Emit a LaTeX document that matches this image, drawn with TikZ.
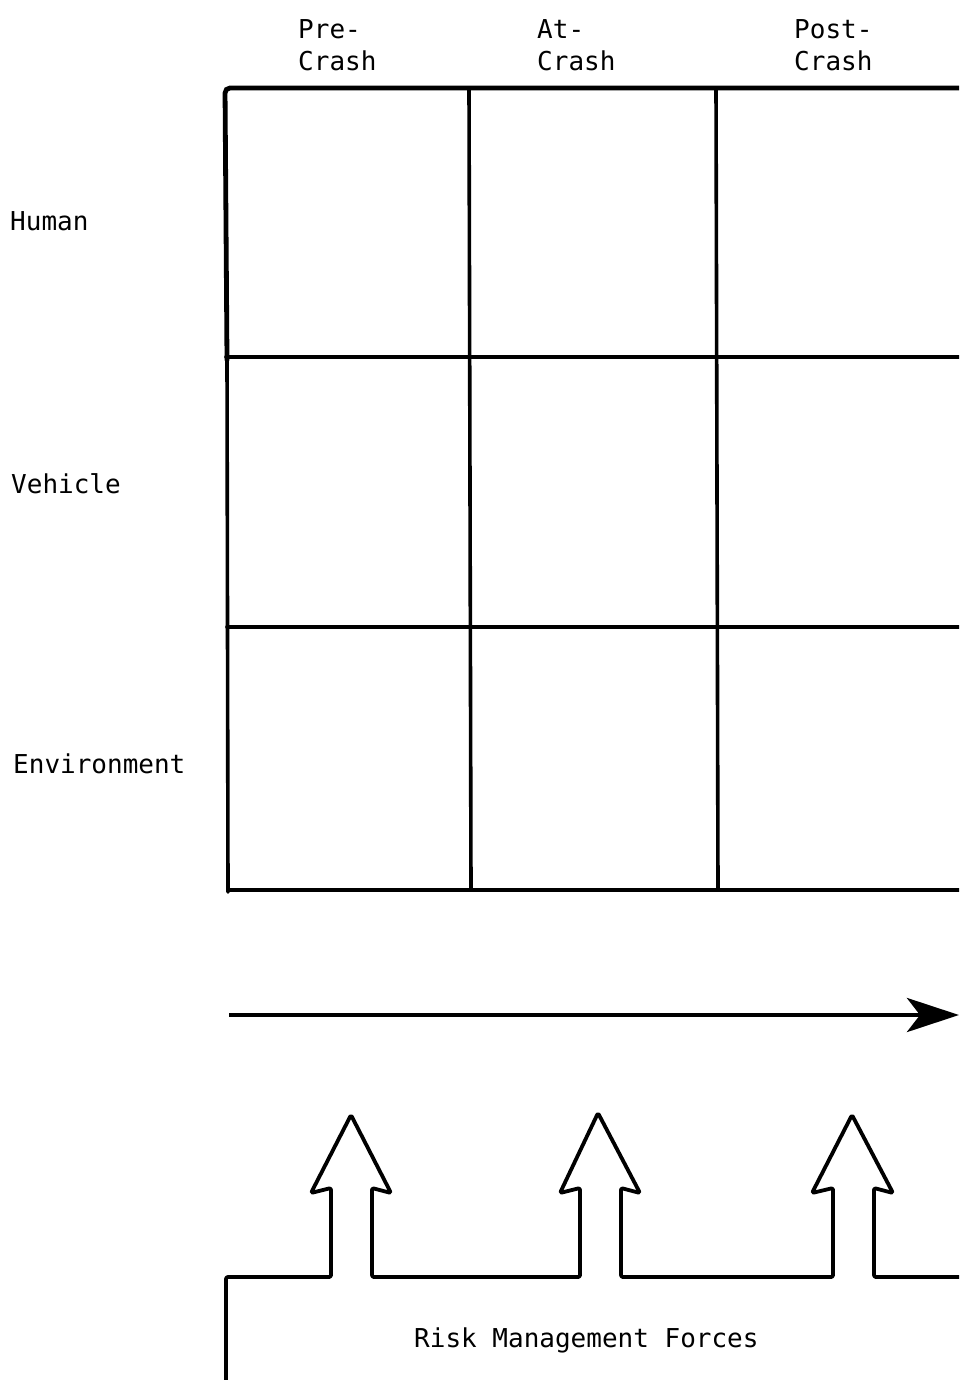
\documentclass[tikz,border=0pt]{standalone}
\usepackage{fontspec}
\setmonofont{DejaVu Sans Mono}
\usetikzlibrary{arrows.meta}
\begin{document}
\begin{tikzpicture}[x=1pt,y=-1pt,
  lbl/.style={font=\ttfamily\fontsize{26}{32}\selectfont, anchor=base west, inner sep=0pt},
  gridline/.style={line width=3.6pt, line cap=round},
  topline/.style={line width=4.8pt, line cap=round},
  hollow/.style={line width=3.8pt, line join=round, rounded corners=2pt},
  timearrow/.style={line width=4.8pt, -{Stealth[length=52pt,width=34pt,inset=13pt]}}]
\useasboundingbox (0,0) rectangle (959,1380);
\clip (0,0) rectangle (959,1380);
% column headings
\node[lbl] (pre1) at (298,39) {Pre-};
\node[lbl] (pre2) at (298,71) {Crash};
\node[lbl] (at1) at (537,39) {At-};
\node[lbl] (at2) at (537,71) {Crash};
\node[lbl] (post1) at (794,39) {Post-};
\node[lbl] (post2) at (794,71) {Crash};
% row labels
\node[lbl] (human) at (10,230) {Human};
\node[lbl] (vehicle) at (11,493) {Vehicle};
\node[lbl] (env) at (13,773) {Environment};
% grid
\draw[topline, rounded corners=5pt] (227,360) -- (225,88) -- (975,88);
\draw[gridline] (227,357) -- (228,892);
\draw[gridline] (226,357) -- (975,357);
\draw[gridline] (227,627) -- (975,627);
\draw[line width=4.2pt] (228,890) -- (975,890);
\draw[gridline] (469,88) -- (471,890);
\draw[gridline] (716,88) -- (718,890);
% time arrow
\coordinate (ta) at (229,1015);
\coordinate (tb) at (959,1015);
\draw[timearrow] (ta) -- (tb);
% risk management forces outline with hollow arrows
\draw[hollow] (226,1390) -- (226,1277) -- (331,1277) -- (331,1188) -- (311,1193) -- (351,1115) -- (391,1193) -- (372,1188) -- (372,1277)
  -- (580,1277) -- (580,1188) -- (560,1193) -- (598,1113) -- (640,1193) -- (621,1188) -- (621,1277)
  -- (833,1277) -- (833,1188) -- (812,1193) -- (852,1115) -- (893,1193) -- (874,1188) -- (874,1277) -- (975,1277);
\node[lbl] (rmf) at (414,1347) {Risk Management Forces};
\end{tikzpicture}
\end{document}
